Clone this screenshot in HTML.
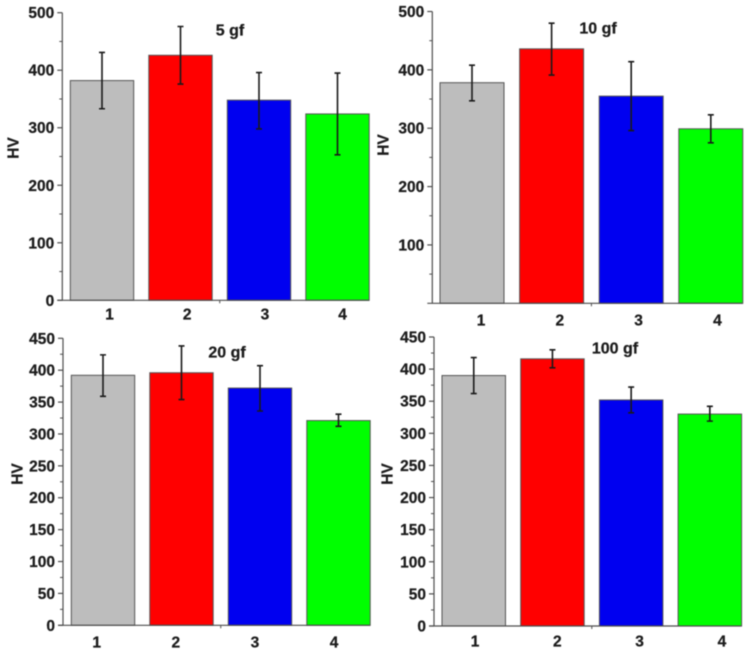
<!DOCTYPE html>
<html lang="en">
<head>
<meta charset="utf-8">
<title>HV bar charts at 5, 10, 20 and 100 gf</title>
<style>
html,body{margin:0;padding:0;background:#fff;width:751px;height:653px;overflow:hidden}
svg{display:block;filter:blur(0.5px)}
text{font-family:"Liberation Sans",Arial,sans-serif;font-weight:bold;fill:#1c1c1c;stroke:#1c1c1c;stroke-width:0.25px}
</style>
</head>
<body>
<svg id="figure" xmlns="http://www.w3.org/2000/svg" width="751" height="653" viewBox="0 0 751 653"></svg>
<script>
const categories = ['1', '2', '3', '4'];
const barColors = ['#bdbdbd', '#ff0000', '#0000f0', '#00ff00'];

const ticks5 = [0, 100, 200, 300, 400, 500];
const hv5 = [382, 426, 348, 324];
const hi5 = [431, 476, 396, 395];
const lo5 = [333, 376, 298, 253];

const ticks10 = [100, 200, 300, 400, 500];
const hv10 = [378, 436, 355, 299];
const hi10 = [408, 480, 414, 323];
const lo10 = [347, 391, 296, 275];

const ticks20 = [0, 50, 100, 150, 200, 250, 300, 350, 400, 450];
const hv20 = [392, 396, 372, 321];
const hi20 = [424, 438, 407, 331];
const lo20 = [359, 354, 336, 312];

const ticks100 = [0, 50, 100, 150, 200, 250, 300, 350, 400, 450];
const hv100 = [390, 416, 352, 330];
const hi100 = [418, 430, 372, 342];
const lo100 = [362, 402, 332, 319];

const svg = document.getElementById('figure');
const NS = 'http://www.w3.org/2000/svg';

function make(parent, tag, attrs, content) {
  const el = document.createElementNS(NS, tag);
  for (const k in attrs) el.setAttribute(k, attrs[k]);
  if (content !== undefined) el.textContent = content;
  parent.appendChild(el);
  return el;
}

function drawPanel(p) {
  const g = make(svg, 'g', {});
  
  

  const yScale = v => p.y0 - v * (p.y0 - p.yTop) / p.yMax;
  const barLeft = i => p.barStart + i * p.barStep;
  const barCenter = i => barLeft(i) + p.barWidth / 2;
  const labelX = i => p.labelStart + i * p.labelStep;
  const axisColor = '#4d4d4d';

  // bars
  p.values.forEach((v, i) => {
    const bar = make(g, 'rect', {
      x: barLeft(i), y: yScale(v), width: p.barWidth, height: p.y0 - yScale(v),
      fill: barColors[i], stroke: '#555', 'stroke-width': 1
    });
    
    
  });

  // error bars
  p.values.forEach((v, i) => {
    const cx = barCenter(i);
    const err = make(g, 'path', {
      d: 'M' + cx + ' ' + yScale(p.hi[i]) + 'V' + yScale(p.lo[i]) +
         'M' + (cx - 3) + ' ' + yScale(p.hi[i]) + 'H' + (cx + 3) +
         'M' + (cx - 3) + ' ' + yScale(p.lo[i]) + 'H' + (cx + 3),
      fill: 'none', stroke: '#1a1a1a', 'stroke-width': 1.6
    });
    
    
  });

  // axes
  const yAxis = make(g, 'line', {
    x1: p.axisX, x2: p.axisX, y1: yScale(p.yMax), y2: p.y0, stroke: axisColor, 'stroke-width': 1.2
  });
  
  

  const xAxis = make(g, 'line', {
    x1: p.axisX - 5, x2: barLeft(3) + p.barWidth, y1: p.y0, y2: p.y0, stroke: axisColor, 'stroke-width': 1.2
  });
  
  

  const xMid = (barLeft(1) + p.barWidth + barLeft(2)) / 2;
  const xTick = make(g, 'line', {
    x1: xMid, x2: xMid, y1: p.y0, y2: p.y0 + 3, stroke: axisColor, 'stroke-width': 1
  });
  
  

  // y ticks
  const step = p.ticks[1] - p.ticks[0];
  p.ticks.forEach(t => {
    const y = yScale(t);
    const tick = make(g, 'line', {
      x1: p.axisX - 5, x2: p.axisX, y1: y, y2: y, stroke: axisColor, 'stroke-width': 1.2
    });
    
    

    const label = make(g, 'text', {
      x: p.axisX - 8, y: y + 5.5, 'text-anchor': 'end', 'font-size': 15.5
    }, String(t));
    
    

    if (t - step / 2 > 0) {
      const my = yScale(t - step / 2);
      const minor = make(g, 'line', {
        x1: p.axisX - 3, x2: p.axisX, y1: my, y2: my, stroke: axisColor, 'stroke-width': 1
      });
      
      
    }
  });

  // x labels
  categories.forEach((c, i) => {
    const label = make(g, 'text', {
      x: labelX(i), y: p.labelY + 5.5, 'text-anchor': 'middle', 'font-size': 15.5
    }, c);
    
    
  });

  // y title
  const yTitle = make(g, 'text', {
    x: 0, y: 0, 'text-anchor': 'middle', 'font-size': 15.5,
    transform: 'translate(' + (p.hvX + 5.5) + ' ' + p.hvY + ') rotate(-90)'
  }, 'HV');
  
  

  // load annotation
  const title = make(g, 'text', {
    x: p.titleX, y: p.titleY + 5.5, 'text-anchor': 'middle', 'font-size': 16
  }, p.title);
  
  
}

drawPanel({
  key: '5gf', title: '5 gf', values: hv5, hi: hi5, lo: lo5, ticks: ticks5,
  yMax: 500, y0: 300.3, yTop: 12.7, axisX: 62.3,
  barStart: 70.3, barStep: 78.5, barWidth: 63.4,
  labelStart: 109.5, labelStep: 77.7, labelY: 314,
  hvX: 13, hvY: 148, titleX: 230, titleY: 30
});
drawPanel({
  key: '10gf', title: '10 gf', values: hv10, hi: hi10, lo: lo10, ticks: ticks10,
  yMax: 500, y0: 303.3, yTop: 11.5, axisX: 432.3,
  barStart: 440, barStep: 79.6, barWidth: 64,
  labelStart: 481, labelStep: 78.8, labelY: 320,
  hvX: 383, hvY: 145, titleX: 598, titleY: 28
});
drawPanel({
  key: '20gf', title: '20 gf', values: hv20, hi: hi20, lo: lo20, ticks: ticks20,
  yMax: 450, y0: 625.3, yTop: 338.3, axisX: 63,
  barStart: 71.3, barStep: 78.5, barWidth: 63.4,
  labelStart: 96.7, labelStep: 79.1, labelY: 642,
  hvX: 17, hvY: 474, titleX: 227, titleY: 352
});
drawPanel({
  key: '100gf', title: '100 gf', values: hv100, hi: hi100, lo: lo100, ticks: ticks100,
  yMax: 450, y0: 626, yTop: 337, axisX: 434,
  barStart: 442, barStep: 78.7, barWidth: 63.5,
  labelStart: 475, labelStep: 82.3, labelY: 641,
  hvX: 387, hvY: 474, titleX: 615, titleY: 348
});
</script>
</body>
</html>
